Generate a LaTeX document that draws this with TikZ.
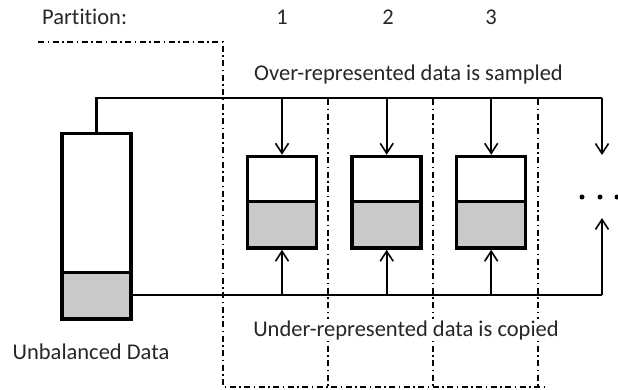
\documentclass[tikz,border=0pt]{standalone}
\usepackage{fontspec}
\setmainfont{Carlito}[RawFeature={-liga;-clig;-calt;-dlig;-rlig}]
\usetikzlibrary{arrows.meta}
\definecolor{boxgray}{RGB}{200,201,203}
\begin{document}
\begin{tikzpicture}[x=1pt,y=-1pt,
  txt/.style={font=\fontsize{22.5}{27}\selectfont, inner sep=0pt, text=black!85},
  upbox/.style={draw, line width=3.5pt, fill=white, minimum width=69pt, inner sep=0pt},
  lowbox/.style={draw, line width=3.5pt, fill=boxgray, minimum width=69pt, inner sep=0pt},
  conn/.style={line width=2.2pt},
  arr/.style={line width=1.6pt, -{Straight Barb[length=10pt,width=13pt,line width=1.6pt]}},
  dd/.style={line width=1.5pt, dash pattern=on 6pt off 3.5pt on 1.5pt off 3.5pt},
  dot/.style={circle, fill=black, inner sep=0pt, minimum size=5pt}]
\useasboundingbox (0,0) rectangle (618,389);

% partition dash-dot lines
\coordinate (l0) at (38,42);
\coordinate (c0) at (223,42);
\coordinate (e0) at (223,387);
\coordinate (e3) at (545,387);
\coordinate (v1t) at (328,99);
\coordinate (v2t) at (433,99);
\coordinate (v3t) at (538,99);
\draw[dd] (l0) -- (c0) -- (e0) -- (e3);
\foreach \v in {v1t,v2t,v3t}{\draw[dd] (\v) -- (\v |- e0);}

% texts
\node[txt, anchor=west] (ptxt) at (42,17) {Parti\kern0pt tion:};
\node[txt] (n1) at (282,17) {1};
\node[txt] (n2) at (388,17) {2};
\node[txt] (n3) at (491,17) {3};
\node[txt] (over) at (408.5,74) {Over-represented data is sampled};
\node[txt] (ubl) at (91,352) {Unbalanced Data};

% unbalanced data box
\node[upbox, minimum height=139pt] (ubt) at (96.5,203) {};
\node[lowbox, minimum height=46.5pt] (ubb) at (96.5,295.75) {};

% partition boxes
\node[upbox, minimum height=45.2pt] (b1t) at (282,179.1) {};
\node[lowbox, minimum height=46.3pt] (b1b) at (282,224.85) {};
\node[upbox, minimum height=45.2pt] (b2t) at (386.7,179.1) {};
\node[lowbox, minimum height=46.3pt] (b2b) at (386.7,224.85) {};
\node[upbox, minimum height=45.2pt] (b3t) at (491.2,179.1) {};
\node[lowbox, minimum height=46.3pt] (b3b) at (491.2,224.85) {};

% connectors
\coordinate (tr) at (602,98);
\coordinate (br) at (602,295);
\coordinate (dtop) at (602,155);
\coordinate (dbot) at (602,218);
\draw[conn] (ubt.north) |- (tr);
\draw[conn] (ubb.east |- br) -- (br);
\draw[arr] (tr) -- (dtop);
\draw[arr] (br) -- (dbot);
\foreach \b in {b1,b2,b3}{
  \draw[arr] (\b t.north |- tr) -- (\b t.north);
  \draw[arr] (\b b.south |- br) -- (\b b.south);
}

\node[dot] (d1) at (582,197) {};
\node[dot] (d2) at (600,197) {};
\node[dot] (d3) at (617,197) {};

\node[txt, fill=white, inner sep=1pt] (under) at (406,330) {Under-represented data is copied};
\end{tikzpicture}
\end{document}
